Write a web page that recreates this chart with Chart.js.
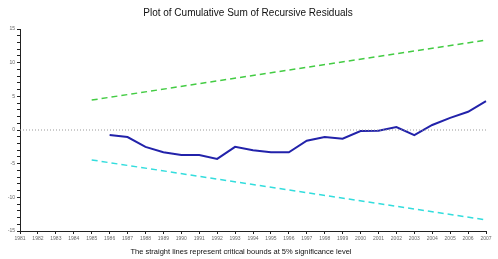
<!DOCTYPE html>
<html lang="en">
<head>
  <meta charset="UTF-8" />
  <title>Plot of Cumulative Sum of Recursive Residuals</title>
  <script src="https://cdn.jsdelivr.net/npm/chart.js"></script>
  <style>
    body { margin: 0; background: #fff; }
    #wrap { width: 498px; height: 259px; }
  </style>
</head>
<body>
  <div id="wrap"><canvas id="c" width="498" height="259"></canvas></div>
  <script>
    // tick labels along the bottom (years, one per observation)
    const years = ['1981', '1982', '1983', '1984', '1985', '1986', '1987', '1988', '1989',
      '1990', '1991', '1992', '1993', '1994', '1995', '1996', '1997', '1998', '1999',
      '2000', '2001', '2002', '2003', '2004', '2005', '2006', '2007'];

    // CUSUM values, starting at the 6th observation
    const cusum = [null, null, null, null, null,
      -0.75, -1.05, -2.5, -3.3, -3.7, -3.7, -4.3, -2.5, -3.0, -3.3, -3.3,
      -1.6, -1.05, -1.3, -0.15, -0.1, 0.45, -0.75, 0.75, 1.8, 2.7, 4.3];

    // 5% bounds: straight lines, only their end points are given
    const upperBound = [null, null, null, null, 4.45,
      null, null, null, null, null, null, null, null, null, null, null,
      null, null, null, null, null, null, null, null, null, null, 13.35];
    const lowerBound = upperBound.map(v => v === null ? null : -v);

    const zeroLine = [0, null, null, null, null, null, null, null, null, null, null, null, null,
      null, null, null, null, null, null, null, null, null, null, null, null, null, 0];

    const titleText = 'Plot of Cumulative Sum of Recursive Residuals';
    const captionText = 'The straight lines represent critical bounds at 5% significance level';

    const textPlugin = {
      id: 'texts',
      afterDraw(chart) {
        const ctx = chart.ctx;
        ctx.save();
        ctx.fillStyle = '#111';
        ctx.textAlign = 'center';
        ctx.textBaseline = 'middle';
        ctx.font = '10px "Liberation Sans", Arial, sans-serif';
        ctx.fillText(titleText, 248, 13);
        ctx.font = '7.5px "Liberation Sans", Arial, sans-serif';
        ctx.fillText(captionText, 241, 252);
        ctx.restore();
      }
    };

    const line = (data, color, width, dash) => ({
      data,
      borderColor: color,
      borderWidth: width,
      borderDash: dash,
      pointRadius: 0,
      spanGaps: true,
      tension: 0,
      fill: false
    });

    new Chart(document.getElementById('c'), {
      type: 'line',
      data: {
        labels: years,
        datasets: [
          line(zeroLine, '#999', 1, [1, 2]),
          line(upperBound, '#44cc44', 1.5, [6, 4]),
          line(lowerBound, '#33dddd', 1.5, [6, 4]),
          line(cusum, '#2222aa', 2, [])
        ]
      },
      options: {
        responsive: false,
        animation: false,
        layout: { padding: { top: 29, right: 12, bottom: 14, left: 2 } },
        plugins: { legend: { display: false }, tooltip: { enabled: false } },
        scales: {
          x: {
            offset: false,
            afterFit: s => { s.height = 14; },
            border: { color: '#222', width: 1 },
            grid: { drawOnChartArea: false, color: '#222', tickLength: 3 },
            ticks: {
              autoSkip: false, maxRotation: 0, padding: 2,
              color: '#666', font: { size: 5, family: 'Liberation Sans' }
            }
          },
          y: {
            min: -15, max: 15,
            afterFit: s => { s.width = 18; },
            border: { color: '#222', width: 1 },
            grid: { drawOnChartArea: false, color: '#222', tickLength: 3 },
            ticks: {
              stepSize: 1, padding: 2, autoSkip: false,
              color: '#666', font: { size: 5, family: 'Liberation Sans' },
              callback: v => (v % 5 === 0 ? String(v) : '')
            }
          }
        }
      },
      plugins: [textPlugin]
    });
  </script>
</body>
</html>
